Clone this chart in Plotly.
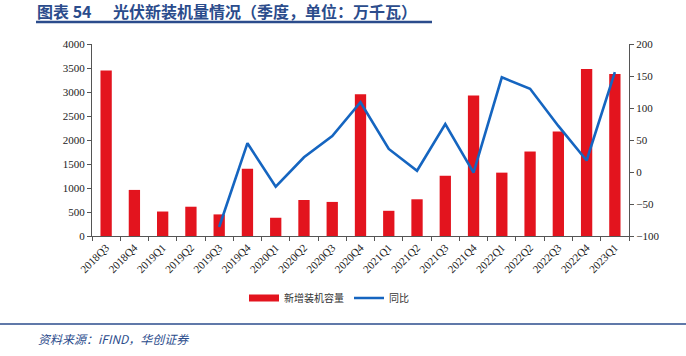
import plotly.graph_objects as go

categories = ["2018Q3","2018Q4","2019Q1","2019Q2","2019Q3","2019Q4","2020Q1","2020Q2","2020Q3","2020Q4",
              "2021Q1","2021Q2","2021Q3","2021Q4","2022Q1","2022Q2","2022Q3","2022Q4","2023Q1"]
capacity = [3450, 960, 510, 610, 450, 1400, 380, 750, 710, 2955,
            525, 765, 1255, 2925, 1320, 1760, 2175, 3480, 3375]
yoy = [None, None, None, None, -86, 45, -23, 23, 56, 109,
       36, 2, 75, -1, 148, 130, 72, 18, 156]

W, H = 686, 356
L, R, T, B = 92, 629, 44, 236

def px(x):
    return (x - L) / (R - L)

def py(y):
    return (B - y) / (B - T)

RED = "#E3141E"
BLUE = "#1565C0"
NAVY = "#2B4C8C"

fig = go.Figure()
fig.add_trace(go.Bar(x=categories, y=capacity, name="新增装机容量", showlegend=False,
                     marker=dict(color=RED, line=dict(width=0)), width=0.4))
# legend swatch styled like the reference (wide bar patch)
fig.add_trace(go.Scatter(x=[None], y=[None], name="新增装机容量", mode="lines",
                         line=dict(color=RED, width=7)))
fig.add_trace(go.Scatter(x=categories, y=yoy, name="同比", yaxis="y2", mode="lines",
                         line=dict(color=BLUE, width=2.6)))

axis_font = dict(family="Liberation Serif, Times New Roman, serif", size=11, color="#222")
fig.update_layout(
    width=W, height=H,
    margin=dict(l=L, r=W - R, t=T, b=H - B, autoexpand=False),
    paper_bgcolor="white", plot_bgcolor="white",
    showlegend=True,
    legend=dict(orientation="h", x=px(244), y=py(298), xanchor="left", yanchor="middle",
                font=dict(family="Noto Sans CJK SC", size=10, color="#333"),
                itemwidth=30, tracegroupgap=0, bgcolor="rgba(0,0,0,0)"),
    xaxis=dict(type="category", tickangle=-45, tickfont=axis_font, showline=True,
               linecolor="#555", linewidth=1, ticks="outside", ticklen=4, tickcolor="#555",
               tickson="boundaries", showgrid=False),
    yaxis=dict(range=[0, 4000], dtick=500, tickfont=axis_font, showline=True, linecolor="#555",
               linewidth=1, ticks="outside", ticklen=4, tickcolor="#555", showgrid=False,
               zeroline=False),
    yaxis2=dict(range=[-100, 200], dtick=50, overlaying="y", side="right", tickfont=axis_font,
                showline=True, linecolor="#555", linewidth=1, ticks="outside", ticklen=4,
                tickcolor="#555", showgrid=False, zeroline=False),
    bargap=0.6,
)

title_font = dict(family="Noto Sans CJK SC", size=16, color=NAVY)
fig.add_annotation(text="<b>图表 54</b>",
                   xref="paper", yref="paper", x=px(36), y=py(11), xanchor="left", yanchor="middle",
                   showarrow=False, borderpad=0, font=title_font)
fig.add_annotation(text="<b>光伏新装机量情况（季度，单位：万千瓦）</b>",
                   xref="paper", yref="paper", x=px(112), y=py(11), xanchor="left", yanchor="middle",
                   showarrow=False, borderpad=0, font=title_font)
fig.add_shape(type="line", xref="paper", yref="paper", x0=px(36), x1=px(432), y0=py(22), y1=py(22),
              line=dict(color=NAVY, width=2.5))
fig.add_shape(type="line", xref="paper", yref="paper", x0=px(0), x1=px(686), y0=py(324), y1=py(324),
              line=dict(color=NAVY, width=1.5))
fig.add_annotation(text="<i>资料来源：iFIND，华创证券</i>",
                   xref="paper", yref="paper", x=px(36), y=py(338), xanchor="left", yanchor="middle",
                   showarrow=False, font=dict(family="Noto Sans CJK SC", size=12, color=NAVY))

fig.write_html("out.html", config={"displayModeBar": False},
               post_script="document.body.style.margin='0';")
